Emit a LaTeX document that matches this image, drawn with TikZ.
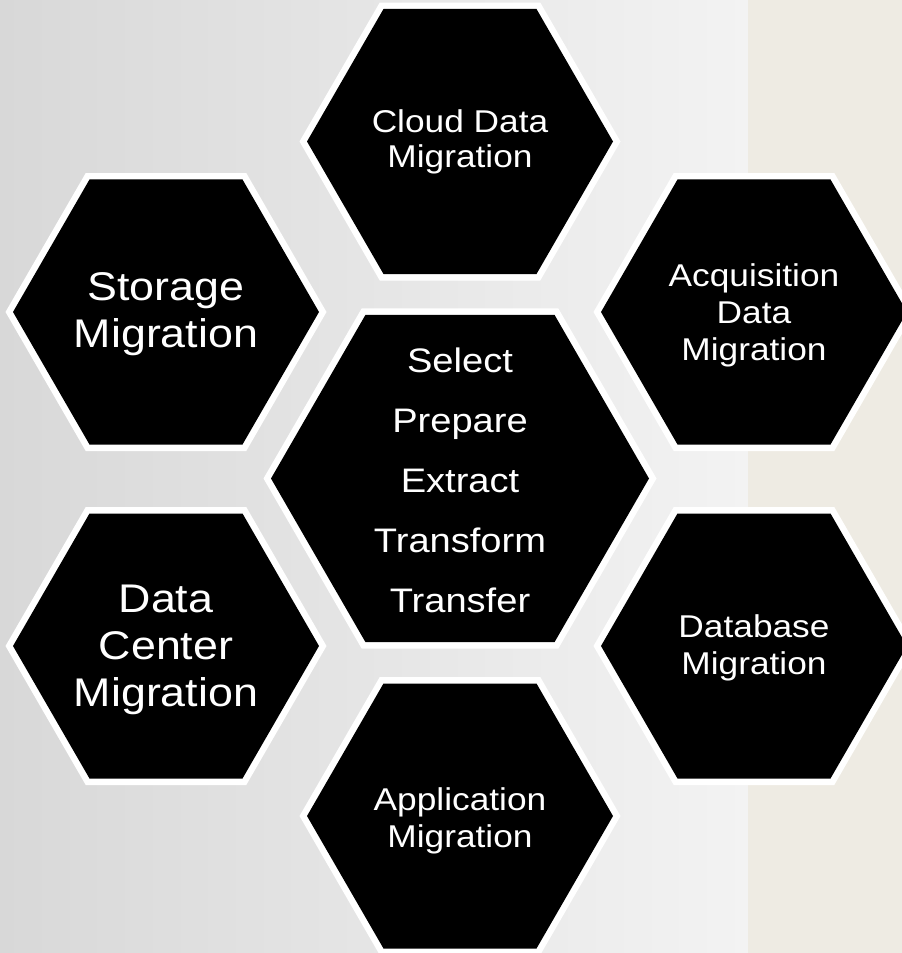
\documentclass[tikz,border=0pt]{standalone}
\usepackage{fontspec}
\setmainfont{Liberation Sans}[FakeStretch=1.12]
\definecolor{bgleft}{RGB}{216,216,216}
\definecolor{bgright}{RGB}{243,243,243}
\definecolor{beigebg}{RGB}{238,235,227}
\newcommand\hexcell[4]{%
  \fill[white,shift={(#1,#2)}] (0:#4) -- (60:#4) -- (120:#4) -- (180:#4) -- (240:#4) -- (300:#4) -- cycle;
  \fill[black,shift={(#1,#2)}] (0:#3) -- (60:#3) -- (120:#3) -- (180:#3) -- (240:#3) -- (300:#3) -- cycle;}
\begin{document}
\begin{tikzpicture}[x=1pt,y=-1pt,
  hexlabel/.style={text=white, align=center, inner sep=0pt, outer sep=0pt},
  smalltext/.style={font=\fontsize{31.5}{37}\selectfont},
  bigtext/.style={font=\fontsize{40}{47}\selectfont},
  centertext/.style={font=\fontsize{34}{60}\selectfont}]
\useasboundingbox (0,0) rectangle (902,953);
\clip (0,0) rectangle (902,953);
\shade[left color=bgleft, right color=bgright] (0,0) rectangle (748,953);
\fill[beigebg] (748,0) rectangle (902,953);
% hexagons
\hexcell{460}{141.5}{153}{160.5}
\hexcell{166}{312}{153}{160.5}
\hexcell{754}{312}{153}{160.5}
\hexcell{460}{478.5}{189}{196.5}
\hexcell{166}{646}{153}{160.5}
\hexcell{754}{646}{153}{160.5}
\hexcell{460}{816}{153}{160.5}
% labels
\node[hexlabel, font=\fontsize{31.5}{35}\selectfont] (cloud) at (460,142) {Cloud Data\\Migration};
\node[hexlabel, bigtext] (storage) at (166,314) {Storage\\Migration};
\node[hexlabel, smalltext] (acq) at (754,315) {Acquisition\\Data\\Migration};
\node[hexlabel, centertext] (steps) at (460,480) {Select\\Prepare\\Extract\\Transform\\Transfer};
\node[hexlabel, bigtext] (dc) at (166,650) {Data\\Center\\Migration};
\node[hexlabel, smalltext] (db) at (754,648) {Database\\Migration};
\node[hexlabel, smalltext] (app) at (460,821) {Application\\Migration};
\end{tikzpicture}
\end{document}
